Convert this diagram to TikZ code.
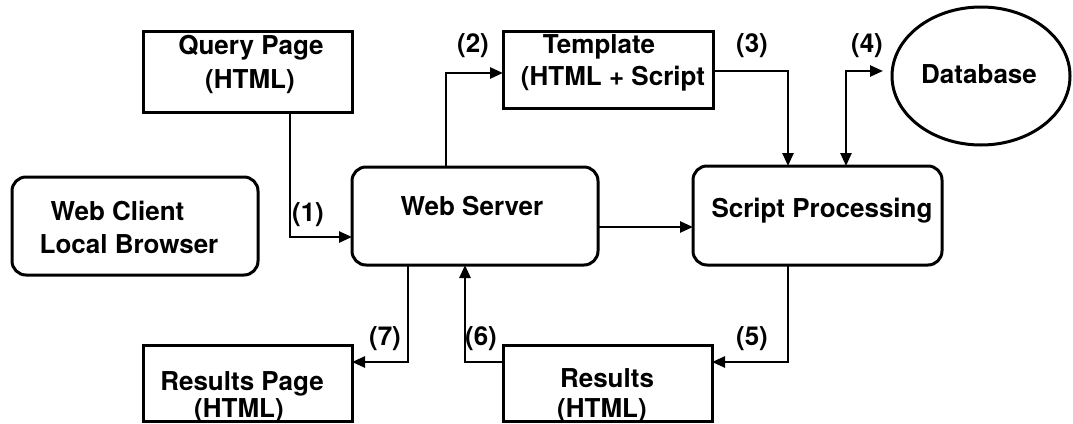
\documentclass[tikz,border=0pt]{standalone}
\usepackage{fontspec}
\setmainfont{TeX Gyre Heros}
\usetikzlibrary{arrows.meta,shapes.geometric}

\begin{document}
\begin{tikzpicture}[x=1pt,y=-1pt,
  every node/.style={font=\fontsize{26}{33}\selectfont\bfseries, inner sep=0pt, outer sep=0pt},
  sqbox/.style={draw, line width=3pt, rectangle},
  rbox/.style={draw, line width=3pt, rectangle, rounded corners=14pt},
  line/.style={anchor=base},
  flow/.style={line width=2.5pt, -{Triangle[length=13pt,width=11pt]}},
  both/.style={line width=2.5pt, {Triangle[length=13pt,width=11pt]}-{Triangle[length=13pt,width=11pt]}}
]
\useasboundingbox[fill=white] (0,0) rectangle (1073,423);

% boxes
\node[sqbox, minimum width=209pt, minimum height=81pt] (qp) at (247.5,71.5) {};
\node[sqbox, minimum width=210pt, minimum height=77pt] (tpl) at (608,69.5) {};
\node[draw, line width=3pt, ellipse, minimum width=178pt, minimum height=138pt] (db) at (981,76) {};
\node[rbox, minimum width=246pt, minimum height=98pt] (wc) at (135,226) {};
\node[rbox, minimum width=246pt, minimum height=98pt] (ws) at (475,216) {};
\node[rbox, minimum width=249pt, minimum height=99pt] (sp) at (817.5,215.5) {};
\node[sqbox, minimum width=209pt, minimum height=76pt] (rp) at (247.5,383) {};
\node[sqbox, minimum width=209pt, minimum height=76pt] (res) at (607.5,383) {};

% box texts, one line each, placed on their baselines
\node[line] (qpa) at (251,54) {Query Page};
\node[line] (qpb) at (250,88) {(HTML)};
\node[line] (tpla) at (599,53) {Template};
\node[line] (tplb) at (613,85) {(HTML + Script};
\node[line] (dbt) at (979,83) {Database};
\node[line] (wca) at (117.5,220) {Web Client};
\node[line] (wcb) at (129,253) {Local Browser};
\node[line] (wst) at (472,215) {Web Server};
\node[line] (spt) at (822,217) {Script Processing};
\node[line] (rpa) at (242,390) {Results Page};
\node[line] (rpb) at (239,417) {(HTML)};
\node[line] (resa) at (607,387) {Results};
\node[line] (resb) at (602,417) {(HTML)};

% connectors
\coordinate (dbin) at ([xshift=-9pt,yshift=5pt]db.west);
\draw[flow] ([xshift=42.5pt]qp.south) |- ([yshift=-21pt]ws.west);
\draw[flow] ([xshift=-29pt]ws.north) |- ([yshift=-3.5pt]tpl.west);
\draw[flow] ([yshift=-1.5pt]tpl.east) -| ([xshift=-29.5pt]sp.north);
\draw[both] ([xshift=28.5pt]sp.north) |- (dbin);
\draw[flow] ([yshift=-11pt]ws.east) -- ([yshift=-11pt]ws.east -| sp.west);
\draw[flow] ([xshift=-29.5pt]sp.south) |- ([yshift=21pt]res.east);
\draw[flow] ([yshift=21pt]res.west) -| ([xshift=-10pt]ws.south);
\draw[flow] ([xshift=-67pt]ws.south) |- ([yshift=21pt]rp.east);

% step numbers
\node[line] (n1) at (308,221) {(1)};
\node[line] (n2) at (473,52) {(2)};
\node[line] (n3) at (752,52) {(3)};
\node[line] (n4) at (867,52) {(4)};
\node[line] (n5) at (752,345) {(5)};
\node[line] (n6) at (481,345) {(6)};
\node[line] (n7) at (385,345) {(7)};
\end{tikzpicture}
\end{document}
